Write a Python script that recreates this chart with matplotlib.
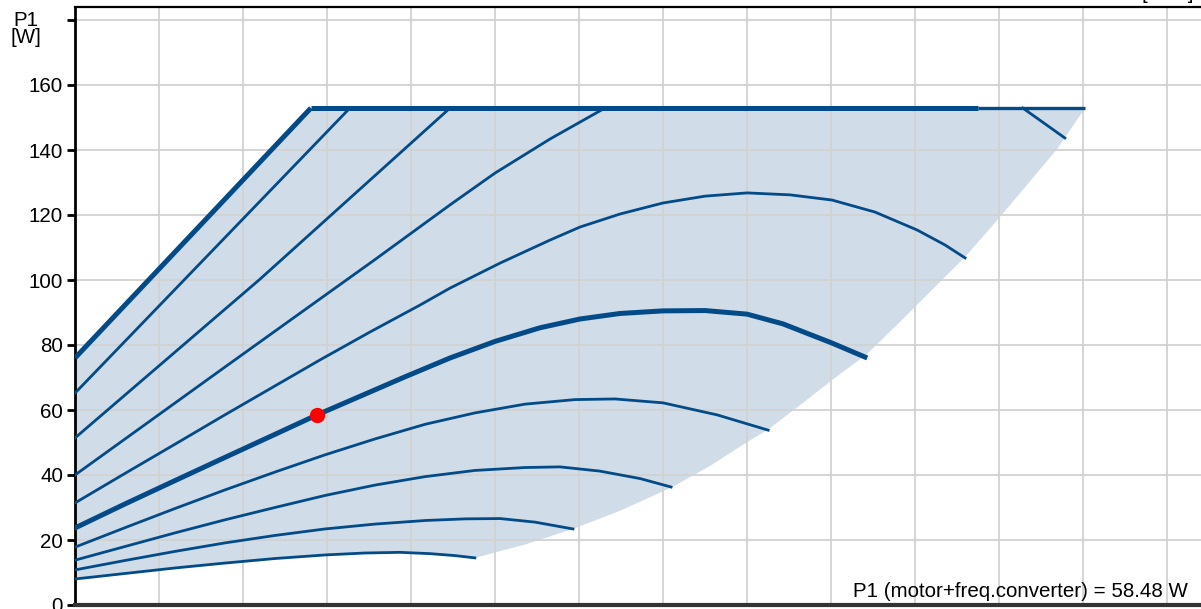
import matplotlib
matplotlib.use("Agg")
from matplotlib import pyplot as plt

plt.rcParams['font.family'] = ['Liberation Sans', 'DejaVu Sans']

# Speed curves, flow Q [m3/h] and power P1 [W]
q_c0 = [0.0, 0.702]
p_c0 = [76.0, 152.9]
q_c1 = [0.0, 0.818]
p_c1 = [65.2, 152.9]
q_c2 = [0.0, 0.551, 1.116]
p_c2 = [51.4, 100.3, 152.9]
q_c3 = [0.0, 0.223, 0.446, 0.670, 0.893, 1.116, 1.25, 1.414, 1.577]
p_c3 = [40.0, 56.6, 73.2, 89.8, 106.3, 123.1, 132.9, 143.4, 152.9]
q_c4 = [0.0, 0.149, 0.298, 0.446, 0.595, 0.729, 0.878, 1.027, 1.116, 1.265, 1.414,
        1.503, 1.622, 1.75, 1.875, 2.0, 2.128, 2.253, 2.381, 2.506, 2.589, 2.649]
p_c4 = [31.4, 40.5, 49.5, 58.5, 67.4, 75.4, 84.0, 92.3, 97.5, 105.2, 112.3,
        116.3, 120.3, 123.7, 125.8, 126.8, 126.2, 124.6, 120.9, 115.4, 110.8, 106.8]
q_c5 = [0.0, 0.149, 0.298, 0.446, 0.595, 0.720, 0.848, 0.982, 1.116, 1.25, 1.384,
        1.503, 1.622, 1.75, 1.875, 2.0, 2.107, 2.253, 2.351]
p_c5 = [23.7, 31.1, 38.3, 45.4, 52.5, 58.48, 64.2, 70.2, 76.0, 81.1, 85.3,
        88.0, 89.7, 90.5, 90.6, 89.5, 86.5, 80.6, 76.3]
q_c6 = [0.0, 0.149, 0.298, 0.446, 0.595, 0.744, 0.893, 1.042, 1.190, 1.339, 1.488,
        1.607, 1.750, 1.911, 2.063]
p_c6 = [17.8, 23.8, 29.7, 35.4, 40.9, 46.2, 51.1, 55.6, 59.1, 61.8, 63.2,
        63.4, 62.2, 58.5, 53.8]
q_c7 = [0.0, 0.149, 0.298, 0.446, 0.595, 0.744, 0.893, 1.042, 1.190, 1.339, 1.443,
        1.562, 1.682, 1.774]
p_c7 = [13.8, 18.0, 22.2, 26.2, 30.0, 33.7, 36.9, 39.5, 41.4, 42.3, 42.5,
        41.2, 38.9, 36.3]
q_c8 = [0.0, 0.149, 0.298, 0.446, 0.595, 0.744, 0.893, 1.042, 1.161, 1.265, 1.369, 1.482]
p_c8 = [10.8, 13.7, 16.5, 19.1, 21.4, 23.4, 24.9, 26.0, 26.5, 26.6, 25.5, 23.4]
q_c9 = [0.0, 0.149, 0.298, 0.446, 0.595, 0.744, 0.863, 0.967, 1.057, 1.131, 1.190]
p_c9 = [8.0, 9.7, 11.4, 12.9, 14.3, 15.4, 16.0, 16.2, 15.8, 15.2, 14.5]
q_c10 = [2.821, 2.946]
p_c10 = [152.9, 143.7]

# power limit line
q_limit = [0.702, 2.688]
q_limit_end = [2.688, 3.006]
p_limit = [152.9, 152.9]

# right edge of the operating range
q_edge = [3.006, 2.923, 2.753, 2.649, 2.455, 2.357, 2.253, 2.158, 2.063, 2.003,
          1.890, 1.774, 1.622, 1.482, 1.339, 1.190]
p_edge = [152.9, 140.3, 119.4, 107.1, 87.1, 77.2, 69.2, 61.5, 54.0, 50.3,
          42.8, 36.1, 29.0, 23.4, 18.6, 14.5]

duty_q = 0.720
duty_p = 58.48

y_ticks = [0, 20, 40, 60, 80, 100, 120, 140, 160, 180]
y_labels = ['0', '20', '40', '60', '80', '100', '120', '140', '160', '']

W, H = 1201, 609
fig = plt.figure(figsize=(W / 100, H / 100), dpi=100)
ax = fig.add_axes([75 / W, 4 / H, 1176 / W, 598 / H])

line_col = '#024b88'
fill_col = '#d0dce8'

# shaded area
area_q = [0.0] + q_c0 + q_edge + q_c9[::-1]
area_p = [p_c9[0]] + p_c0 + p_edge + p_c9[::-1]
ax.fill(area_q, area_p, color=fill_col, lw=0, zorder=1)

thin = 2.0
thick = 3.6
ax.plot(q_c0, p_c0, color=line_col, lw=thick, solid_capstyle='butt', zorder=3)
ax.plot(q_limit, p_limit, color=line_col, lw=thick, solid_capstyle='butt', zorder=3)
ax.plot(q_limit_end, p_limit, color=line_col, lw=thin + 0.4, solid_capstyle='butt', zorder=3)
for q, p in [(q_c1, p_c1), (q_c2, p_c2), (q_c3, p_c3), (q_c4, p_c4),
             (q_c6, p_c6), (q_c7, p_c7), (q_c8, p_c8), (q_c9, p_c9), (q_c10, p_c10)]:
    ax.plot(q, p, color=line_col, lw=thin, zorder=3)
ax.plot(q_c5, p_c5, color=line_col, lw=thick, zorder=3)
ax.plot([duty_q], [duty_p], 'o', color='#ff0000', markersize=10, zorder=5)

ax.set_xlim(0, 3.5)
ax.set_ylim(0, 184)
ax.set_xticks([i * 0.25 for i in range(15)])
ax.set_yticks(y_ticks)
ax.set_yticklabels(y_labels, fontsize=14.8)
ax.tick_params(axis='y', length=6, width=2, pad=2.5)
ax.tick_params(axis='x', length=0, labelbottom=False)
ax.grid(True, color='#d2d2d2', lw=1.3)
ax.set_axisbelow('line')

ax.spines['right'].set_visible(False)
ax.spines['left'].set_linewidth(2)
ax.spines['top'].set_linewidth(1.6)
ax.spines['bottom'].set_linewidth(3)
ax.spines['bottom'].set_color('#333333')

fig.text(26 / W, 1 - 29 / H, 'P1\n[W]', ha='center', va='center', fontsize=14.8,
         linespacing=0.9)
fig.text(1188 / W, 1 - 597 / H, 'P1 (motor+freq.converter) = 58.48 W',
         ha='right', va='baseline', fontsize=14.8)
fig.text(1194 / W, 1 + 1 / H, '[m³/h]', ha='right', va='baseline', fontsize=14.8)

fig.savefig('out.png', dpi=100)
